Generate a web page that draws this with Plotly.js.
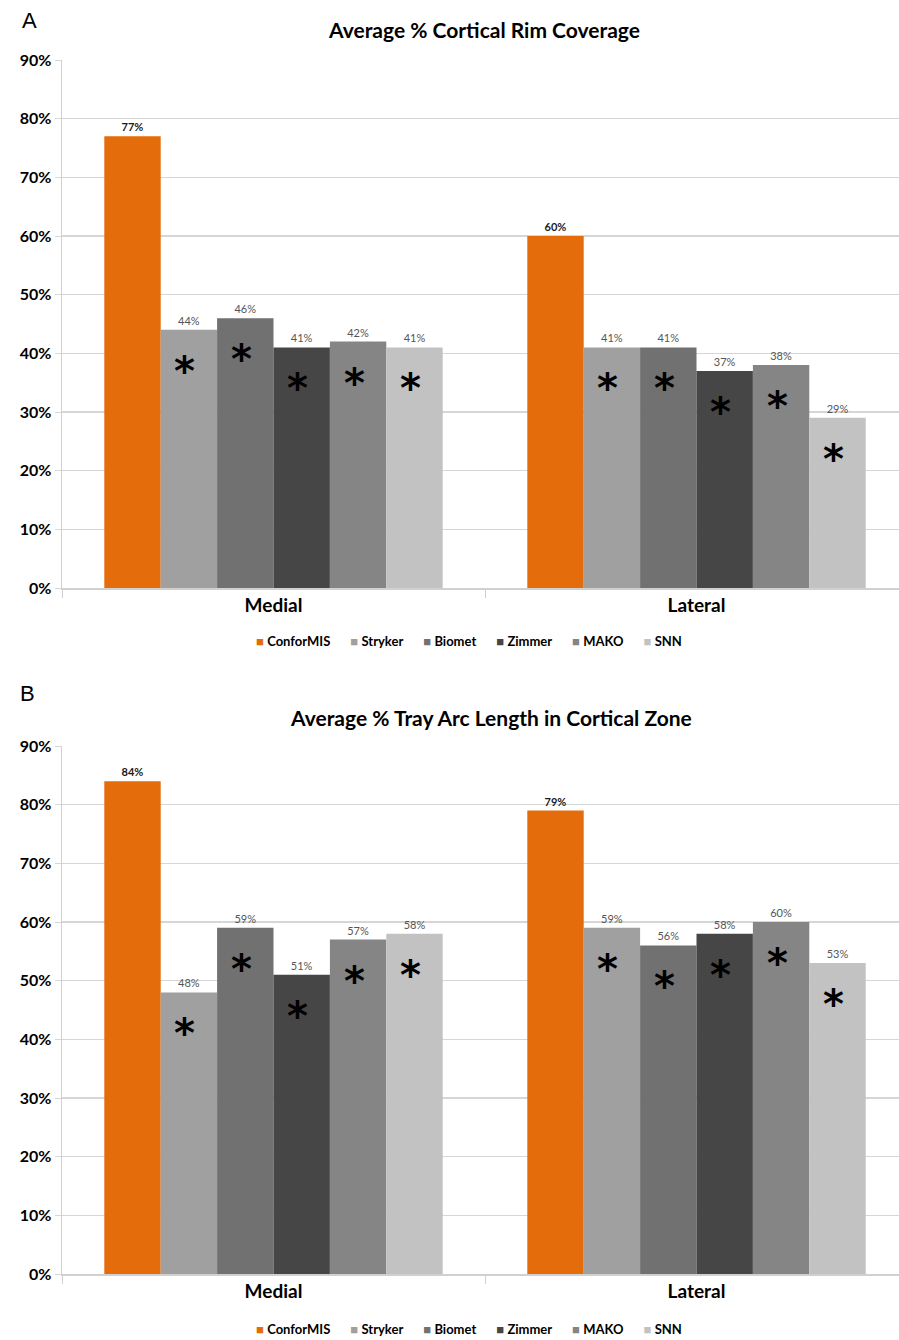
<!DOCTYPE html>
<html>
<head>
<meta charset="utf-8">
<script src="https://cdn.plot.ly/plotly-3.0.1.min.js"></script>
<style>html,body{margin:0;padding:0;background:#fff;}#chart{width:899px;height:1340px;}</style>
</head>
<body>
<div id="chart"></div>
<script>
const categories = ['Medial', 'Lateral'];
const brands = ['ConforMIS', 'Stryker', 'Biomet', 'Zimmer', 'MAKO', 'SNN'];
const brandColors = ['#E46C0A', '#A0A0A0', '#717171', '#464646', '#858585', '#C2C2C2'];

// Panel A: Average % Cortical Rim Coverage
const rimConforMIS = [0.77, 0.60];
const rimStryker   = [0.44, 0.41];
const rimBiomet    = [0.46, 0.41];
const rimZimmer    = [0.41, 0.37];
const rimMAKO      = [0.42, 0.38];
const rimSNN       = [0.41, 0.29];

// Panel B: Average % Tray Arc Length in Cortical Zone
const arcConforMIS = [0.84, 0.79];
const arcStryker   = [0.48, 0.59];
const arcBiomet    = [0.59, 0.56];
const arcZimmer    = [0.51, 0.58];
const arcMAKO      = [0.57, 0.60];
const arcSNN       = [0.58, 0.53];

// significance markers (true = asterisk shown)
const rimSignif = [false, true, true, true, true, true];
const arcSignif = [false, true, true, true, true, true];

const titleA = 'Average % Cortical Rim Coverage';
const titleB = 'Average % Tray Arc Length in Cortical Zone';
const yTicks = [0, 0.1, 0.2, 0.3, 0.4, 0.5, 0.6, 0.7, 0.8, 0.9];

const rimSeries = [rimConforMIS, rimStryker, rimBiomet, rimZimmer, rimMAKO, rimSNN];
const arcSeries = [arcConforMIS, arcStryker, arcBiomet, arcZimmer, arcMAKO, arcSNN];

const FONT = 'Lato, "Open Sans", sans-serif';
const traces = [];
function addPanel(series, xa, ya) {
  series.forEach((vals, i) => {
    traces.push({
      type: 'bar', x: categories, y: vals, name: brands[i],
      xaxis: xa, yaxis: ya, showlegend: false,
      marker: {color: brandColors[i], line: {width: 0}},
      texttemplate: '%{y:.0%}', textposition: 'outside', cliponaxis: false,
      textfont: {family: FONT, size: 11, color: i === 0 ? '#1a1a1a' : '#555555', weight: i === 0 ? 'bold' : 'normal'},
      hoverinfo: 'skip'
    });
  });
}
addPanel(rimSeries, 'x', 'y');
addPanel(arcSeries, 'x2', 'y2');

const annotations = [];
const bargap = 0.2;
const groupW = 1 - bargap;
function addStars(series, signif, xref, yref) {
  series.forEach((vals, i) => {
    if (!signif[i]) return;
    vals.forEach((v, c) => {
      annotations.push({
        xref: xref, yref: yref,
        x: c - groupW / 2 + groupW / brands.length * (i + 0.5), y: v,
        text: '<b>*</b>', showarrow: false, xshift: -4, yshift: -41,
        yanchor: 'middle', font: {family: 'DejaVu Sans, sans-serif', size: 40, color: '#000'}
      });
    });
  });
}
addStars(rimSeries, rimSignif, 'x', 'y');
addStars(arcSeries, arcSignif, 'x2', 'y2');

// legend built from the brand names and colours
const SP = '&nbsp;&nbsp;&nbsp;&nbsp;&nbsp;&nbsp;';
const legendText = brands.map((b, i) =>
  '<span style="color:' + brandColors[i] + '">■</span> <b>' + b + '</b>').join(SP);
[641, 1329].forEach(py => {
  annotations.push({xref: 'paper', yref: 'paper', x: (469 - 62)/837, y: 1 - py/1340,
    text: legendText, showarrow: false, xanchor: 'center', yanchor: 'middle',
    font: {family: FONT, size: 13, color: '#000'}});
});

annotations.push(
  {xref: 'paper', yref: 'paper', x: -0.0394, y: 1 - 20/1340, text: 'A', showarrow: false,
   font: {family: 'Liberation Sans, Arial, sans-serif', size: 22, color: '#000'}, xanchor: 'center', yanchor: 'middle'},
  {xref: 'paper', yref: 'paper', x: -0.0418, y: 1 - 693/1340, text: 'B', showarrow: false,
   font: {family: 'Liberation Sans, Arial, sans-serif', size: 22, color: '#000'}, xanchor: 'center', yanchor: 'middle'},
  {xref: 'paper', yref: 'paper', x: (484 - 62)/837, y: 1 - 30/1340, text: '<b>' + titleA + '</b>', showarrow: false,
   font: {family: FONT, size: 21, color: '#000'}, xanchor: 'center', yanchor: 'middle'},
  {xref: 'paper', yref: 'paper', x: (491 - 62)/837, y: 1 - 717/1340, text: '<b>' + titleB + '</b>', showarrow: false,
   font: {family: FONT, size: 21, color: '#000'}, xanchor: 'center', yanchor: 'middle'}
);

const xRange = [-0.5, -0.5 + 837/423];
function xaxisDef(anchor) {
  return {
    anchor: anchor, type: 'category', range: xRange, showgrid: false,
    showline: true, linecolor: '#D0D0D0', linewidth: 1.5,
    ticks: 'outside', tickson: 'boundaries', ticklen: 8, tickcolor: '#D0D0D0',
    tickfont: {family: FONT, size: 19, color: '#000', weight: 'bold'}, fixedrange: true
  };
}
function yaxisDef(anchor, domain) {
  return {
    anchor: anchor, domain: domain, range: [0, 0.9], tickvals: yTicks, tickformat: '.0%',
    showgrid: true, gridcolor: '#D6D6D6', gridwidth: 1.5,
    showline: true, linecolor: '#D0D0D0', linewidth: 1.5,
    ticks: 'outside', ticklen: 6, tickcolor: '#D6D6D6',
    tickfont: {family: FONT, size: 16, color: '#000', weight: 'bold'}, zeroline: false, fixedrange: true
  };
}

const layout = {
  width: 899, height: 1340,
  margin: {l: 62, r: 0, t: 0, b: 0},
  paper_bgcolor: '#fff', plot_bgcolor: '#fff',
  barmode: 'group', bargap: bargap, bargroupgap: 0,
  showlegend: false,
  xaxis: xaxisDef('y'),
  yaxis: yaxisDef('x', [1 - 588/1340, 1 - 60/1340]),
  xaxis2: xaxisDef('y2'),
  yaxis2: yaxisDef('x2', [1 - 1274/1340, 1 - 746/1340]),
  annotations: annotations
};

Plotly.newPlot('chart', traces, layout, {displayModeBar: false, staticPlot: true});
</script>
</body>
</html>
